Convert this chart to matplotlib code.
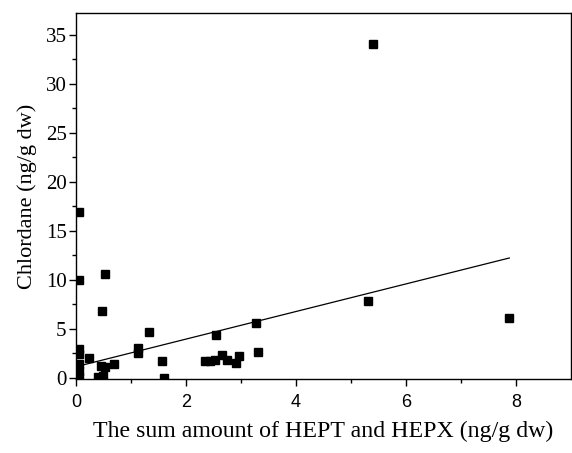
import matplotlib.pyplot as plt
import numpy as np

# HEPT + HEPX (ng/g dw) vs chlordane (ng/g dw)
hept_hepx = [0.05, 0.05, 0.05, 0.05, 0.05, 0.05, 0.05,
             0.24, 0.45, 0.52, 0.69, 0.40, 0.48,
             0.46, 0.52, 1.12, 1.12, 1.33, 1.56, 1.59,
             2.34, 2.43, 2.52, 2.66, 2.74, 2.91, 2.96,
             2.55, 3.27, 3.30, 5.30, 5.40, 7.88]
chlordane = [16.9, 10.0, 2.95, 2.45, 1.4, 0.7, 0.1,
             2.0, 1.2, 1.15, 1.4, 0.15, 0.2,
             6.8, 10.6, 3.1, 2.55, 4.7, 1.7, 0.05,
             1.75, 1.75, 1.85, 2.35, 1.85, 1.55, 2.25,
             4.35, 5.6, 2.6, 7.8, 34.0, 6.1]

# linear fit drawn in the original (intercept, slope)
fit_intercept = 1.16
fit_slope = 1.405

x_ticks = [0, 2, 4, 6, 8]
y_ticks = [0, 5, 10, 15, 20, 25, 30, 35]

serif = 'Liberation Serif'
sans = 'Liberation Sans'

fig = plt.figure(figsize=(5.72, 4.53), dpi=100)
ax = fig.add_axes([0.1334, 0.1634, 0.998 - 0.1334, 0.9713 - 0.1634])

ax.plot(hept_hepx, chlordane, ls='none', marker='s', ms=5.8, color='black',
        mec='black', clip_on=True, zorder=3)

fx = np.array([0.0, max(hept_hepx)])
ax.plot(fx, fit_intercept + fit_slope * fx, color='black', lw=0.9, zorder=2)

ax.set_xlim(0, 9)
ax.set_ylim(-0.1, 37.2)
ax.set_xticks(x_ticks)
ax.set_yticks(y_ticks)
ax.set_xticks(np.arange(1, 9, 2), minor=True)
ax.set_yticks(np.arange(2.5, 37, 5), minor=True)

for s in ax.spines.values():
    s.set_linewidth(1.0)

ax.tick_params(which='major', direction='out', length=5, width=1.0)
ax.tick_params(which='minor', direction='out', length=3, width=1.0)
ax.tick_params(axis='x', pad=6)
ax.tick_params(axis='y', pad=2)

for lab in ax.get_xticklabels():
    lab.set_fontfamily(sans)
    lab.set_fontsize(13)
for lab in ax.get_yticklabels():
    lab.set_fontfamily(serif)
    lab.set_fontsize(15)

ax.set_xlabel('The sum amount of HEPT and HEPX (ng/g dw)', fontfamily=serif,
              fontsize=17.2, labelpad=7)
ax.set_ylabel('Chlordane (ng/g dw)', fontfamily=serif, fontsize=16, labelpad=6)

fig.savefig('out.png', dpi=100)
